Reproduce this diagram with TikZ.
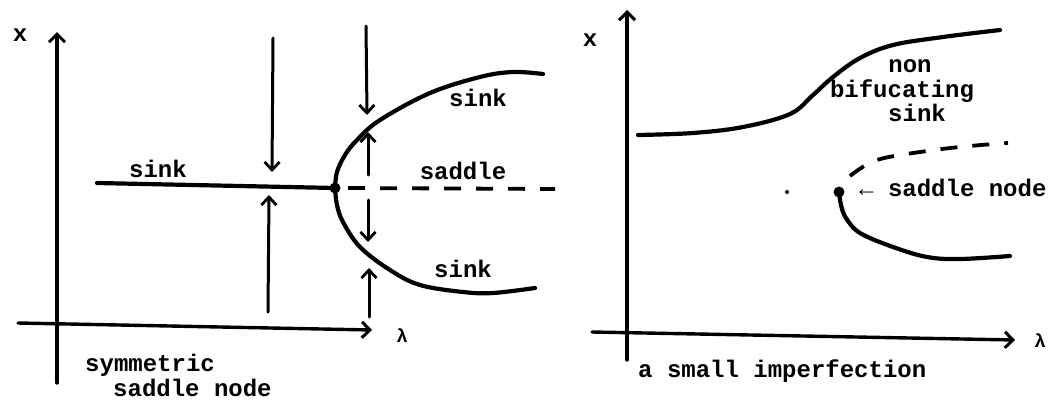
\documentclass[tikz,border=0pt]{standalone}
\usepackage{fontspec}
\setmonofont{Liberation Mono}
\usetikzlibrary{arrows.meta}
\tikzset{
  lbl/.style={inner sep=0pt, font=\ttfamily\bfseries\fontsize{24}{28}\selectfont},
  lam/.style={inner sep=0pt, font=\ttfamily\bfseries\fontsize{19}{22}\selectfont},
  axis/.style={line width=3.4pt, line cap=round, -{Straight Barb[length=8pt,width=16pt,line width=3pt]}},
  flow/.style={line width=3pt, line cap=round, -{Straight Barb[length=8pt,width=15pt,line width=2.8pt]}},
  branch/.style={line width=4.2pt, line cap=round, line join=round},
  unstable/.style={line width=3.8pt, dash pattern=on 17pt off 15pt},
  dotnode/.style={circle, fill=black, inner sep=0pt, minimum size=11pt},
}
\begin{document}
\begin{tikzpicture}[x=1pt, y=-1pt]
\useasboundingbox (0,0) rectangle (1062,399);

% ---------- left panel ----------
\coordinate (LxB) at (57,383);
\coordinate (LxT) at (57,32);
\coordinate (LlL) at (18,323);
\coordinate (LlR) at (372,330);
\draw[axis] (LxB) -- (LxT);
\draw[axis] (LlL) -- (LlR);
\node[lbl, anchor=base] (Lx) at (20,41) {x};
\node[lam, anchor=base] (Llam) at (402,342) {λ};

\node[dotnode] (sn1) at (335,188) {};
\coordinate (sinkL) at (97,183);
\coordinate (dashS) at (348,188);
\coordinate (dashR) at (555,189);
\draw[branch] (sinkL) -- (sn1.center);
\draw[unstable] (dashS) -- (dashR);
\draw[branch] plot[smooth, tension=0.6] coordinates {(335,188) (337,172) (345,155) (357,140) (380,120) (430,93) (480,77) (513,72) (543,74)};
\draw[branch] plot[smooth, tension=0.6] coordinates {(335,188) (337,205) (343,222) (360,247) (390,270) (420,285) (463,292) (493,293) (535,288)};

\coordinate (a1s) at (273,38);  \coordinate (a1e) at (272,172);
\coordinate (a2s) at (268,312); \coordinate (a2e) at (269,195);
\coordinate (a3s) at (366,26);  \coordinate (a3e) at (367,115);
\coordinate (a4s) at (368,175); \coordinate (a4e) at (368,132);
\coordinate (a5s) at (368,200); \coordinate (a5e) at (368,242);
\coordinate (a6s) at (369,317); \coordinate (a6e) at (369,268);
\draw[flow] (a1s) -- (a1e);
\draw[flow] (a2s) -- (a2e);
\draw[flow] (a3s) -- (a3e);
\draw[flow] (a4s) -- (a4e);
\draw[flow] (a5s) -- (a5e);
\draw[flow] (a6s) -- (a6e);

\node[lbl, anchor=base] (sinkA) at (158,177) {sink};
\node[lbl, anchor=base] (sinkB) at (478,106) {sink};
\node[lbl, anchor=base] (saddleA) at (463,179) {saddle};
\node[lbl, anchor=base] (sinkC) at (463,277) {sink};
\node[lbl, anchor=base west] (symA) at (85,371) {symmetric};
\node[lbl, anchor=base west] (symB) at (113,396) {saddle node};

% ---------- right panel ----------
\coordinate (RxB) at (627,360);
\coordinate (RxT) at (627,10);
\coordinate (RlL) at (592,332);
\coordinate (RlR) at (1015,340);
\draw[axis] (RxB) -- (RxT);
\draw[axis] (RlL) -- (RlR);
\node[lbl, anchor=base] (Rx) at (590,46) {x};
\node[lam, anchor=base] (Rlam) at (1040,347) {λ};

\draw[branch] plot[smooth, tension=0.6] coordinates {(638,135) (693,133) (743,127) (790,114) (813,95) (833,77) (860,58) (893,45) (943,37) (1000,30)};
\node[dotnode] (sn2) at (839,192) {};
\draw[unstable] plot[smooth, tension=0.6] coordinates {(850,176) (877,160) (927,151) (970,146) (1008,143)};
\draw[branch] plot[smooth, tension=0.6] coordinates {(839,192) (841,205) (846,218) (860,233) (893,247) (927,257) (960,259) (1010,256)};
\node[circle, fill=black, inner sep=0pt, minimum size=4pt] (spot) at (787,192) {};

\node[lbl, anchor=base] (nbA) at (910,72) {non};
\node[lbl, anchor=base] (nbB) at (902,97) {bifucating};
\node[lbl, anchor=base] (nbC) at (917,121) {sink};
\node[lbl, anchor=base west] (snl) at (859,196) {← saddle node};
\node[lbl, anchor=base west] (imp) at (638,377) {a small imperfection};
\end{tikzpicture}
\end{document}
